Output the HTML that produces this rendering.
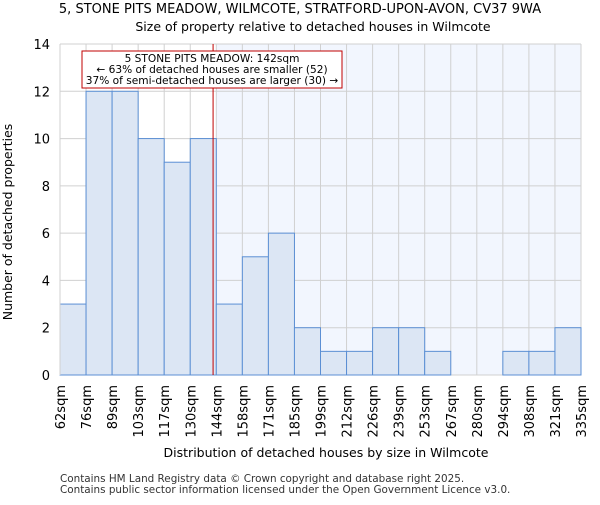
<!DOCTYPE html>
<html><head><meta charset="utf-8"><style>
body{margin:0;background:#fff;}
svg{font-family:"DejaVu Sans","Liberation Sans",sans-serif;}
</style></head><body>
<svg id="chart" width="600" height="500">
<text x="300" y="13" text-anchor="middle" font-size="13">5, STONE PITS MEADOW, WILMCOTE, STRATFORD-UPON-AVON, CV37 9WA</text>
<text x="313" y="31" text-anchor="middle" font-size="12.5">Size of property relative to detached houses in Wilmcote</text>
<g id="plot"></g>
<text x="326" y="457" text-anchor="middle" font-size="12.5">Distribution of detached houses by size in Wilmcote</text>
<text transform="translate(12,222) rotate(-90)" text-anchor="middle" font-size="12.5">Number of detached properties</text>
<text x="60" y="482" font-size="10.4" fill="#333">Contains HM Land Registry data © Crown copyright and database right 2025.</text>
<text x="60" y="493" font-size="10.4" fill="#333">Contains public sector information licensed under the Open Government Licence v3.0.</text>
</svg>
<script>
const binLabels=["62sqm","76sqm","89sqm","103sqm","117sqm","130sqm","144sqm","158sqm","171sqm","185sqm","199sqm","212sqm","226sqm","239sqm","253sqm","267sqm","280sqm","294sqm","308sqm","321sqm","335sqm"];
const binEdges=[62,76,89,103,117,130,144,158,171,185,199,212,226,239,253,267,280,294,308,321,335];
const counts=[3,12,12,10,9,10,3,5,6,2,1,1,2,2,1,0,0,1,1,2];
const yTicks=[0,2,4,6,8,10,12,14];
const subjectSize=142;
const NS="http://www.w3.org/2000/svg";
const L=60,R=581,T=44,B=375,yMax=14;
const n=counts.length, bw=(R-L)/n;
const xi=i=>L+i*bw;
const y=v=>B-(v/yMax)*(B-T);
function xv(v){for(let i=0;i<binEdges.length-1;i++){if(v<=binEdges[i+1])return xi(i)+(v-binEdges[i])/(binEdges[i+1]-binEdges[i])*bw;}return R;}
const g=document.getElementById('plot');
function mk(t,a,p){const e=document.createElementNS(NS,t);for(const k in a)e.setAttribute(k,a[k]);(p||g).appendChild(e);return e;}
const sx=xv(subjectSize)+0.5;
const sb=Math.min(n,binEdges.findIndex(e=>e>subjectSize));
const shade=mk('rect',{x:xi(sb),y:T,width:R-xi(sb),height:B-T,fill:'#f2f6fe'});


for(let i=0;i<=n;i++){const l=mk('line',{x1:xi(i),x2:xi(i),y1:T,y2:B,stroke:'#d0d0d0','stroke-width':1});

}
yTicks.forEach(t=>{const l=mk('line',{x1:L,x2:R,y1:y(t),y2:y(t),stroke:'#d0d0d0','stroke-width':1});


const tx=mk('text',{x:L-10,y:y(t)+5,'text-anchor':'end','font-size':13});tx.textContent=t;

});
counts.forEach((c,i)=>{if(c<=0)return;const r=mk('rect',{x:xi(i),y:y(c),width:bw,height:B-y(c),fill:'#dce6f4',stroke:'#5b8fd4','stroke-width':1});

});
binLabels.forEach((lb,i)=>{const tx=mk('text',{'text-anchor':'end','font-size':13,transform:`translate(${xi(i)+5},${B+10}) rotate(-90)`});tx.textContent=lb;

});
const ax=mk('line',{x1:L,x2:L,y1:T,y2:B,stroke:'#d0d0d0'});


const ml=mk('line',{x1:sx,x2:sx,y1:T,y2:B,stroke:'#c00000','stroke-width':1});


const box=mk('rect',{x:82,y:51,width:260,height:37,fill:'#fff',stroke:'#c00000','stroke-width':1});


["5 STONE PITS MEADOW: 142sqm","← 63% of detached houses are smaller (52)","37% of semi-detached houses are larger (30) →"].forEach((s,k)=>{const tx=mk('text',{x:212,y:62+k*11,'text-anchor':'middle','font-size':10.6});tx.textContent=s;

});
</script>
</body></html>
